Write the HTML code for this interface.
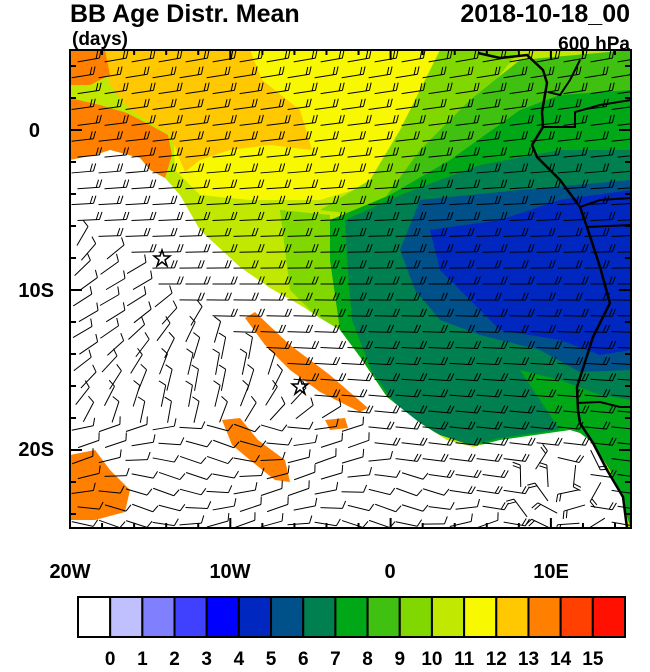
<!DOCTYPE html>
<html><head><meta charset="utf-8"><style>
body{margin:0;background:#fff;width:650px;height:667px;overflow:hidden;font-family:"Liberation Sans",sans-serif}
</style></head><body>
<svg id="s" width="650" height="667" xmlns="http://www.w3.org/2000/svg" font-family="Liberation Sans, sans-serif">
<defs><clipPath id="c"><rect x="70" y="50" width="561" height="478"/></clipPath></defs>
<g clip-path="url(#c)">
<rect x="70" y="50" width="561" height="478" fill="#c0e800"/>
<polygon fill="#f8f800" points="170,50,440,50,420,100,400,140,370,185,320,200,250,200,200,195,175,170"/>
<polygon fill="#ffc800" points="100,50,250,50,262,80,300,110,312,150,270,145,230,150,200,160,185,172,170,135,130,110,110,85"/>
<polygon fill="#ff8000" points="70,50,105,50,110,75,90,85,70,85"/>
<polygon fill="#ff8000" points="70,98,100,105,127,113,150,125,168,135,172,155,165,178,150,170,140,158,110,150,95,155,70,160"/>
<polygon fill="#80d800" points="440,50,520,50,480,100,430,150,400,190,360,215,320,210,370,180,400,130"/>
<polygon fill="#40c010" points="380,205,420,150,470,100,520,60,631,50,631,200,500,200"/>
<polygon fill="#00a818" points="330,220,390,195,450,160,520,110,560,95,631,90,631,440,560,440,470,445,400,420,360,357,340,330,320,260"/>
<polygon fill="#80d800" points="280,210,330,215,330,260,340,330,360,357,387,397,420,423,447,440,400,430,360,380,330,330,290,290"/>
<polygon fill="#008050" points="345,220,400,195,480,165,560,150,631,150,631,440,590,440,570,428,500,438,470,445,440,435,400,410,372,372,352,320,347,260"/>
<polygon fill="#00508a" points="420,200,520,190,631,180,631,370,580,372,540,350,480,335,440,320,415,290,400,250"/>
<polygon fill="#0028c0" points="430,230,500,220,560,200,631,190,631,350,600,355,560,340,500,330,470,300,440,270"/>
<polygon fill="#00a818" points="520,370,560,380,600,395,631,400,631,528,610,470,590,440,560,430,540,400"/>
<polygon fill="#fff" points="70,160,95,155,110,150,140,158,150,170,165,178,180,195,200,230,240,267,270,288,300,305,320,318,340,330,360,357,387,397,420,423,447,440,473,447,500,440,570,430,580,433,593,443,607,470,623,497,627,528,70,528"/>
<polygon fill="#ff8000" points="245,318,255,312,290,345,330,375,368,408,360,412,320,392,290,370,265,345"/>
<polygon fill="#ff8000" points="222,420,240,418,258,440,285,460,290,482,275,480,250,460,232,445"/>
<polygon fill="#ff8000" points="70,455,95,450,110,470,130,490,125,512,95,520,70,520"/>
<polygon fill="#ff8000" points="325,420,345,418,348,428,330,430"/>
<g fill="none" stroke="#000" stroke-width="2.5">
<polyline points="478,53,500,58,527,55,543,70,547,83,542,112,543,127,532,145,537,157,560,180,580,207,588,230,600,267,610,303,593,337,577,387,578,410,580,423,593,443,607,470,623,497,627,528"/>
<polyline points="543,127,575,127,575,112,600,105,631,100" stroke-width="2"/>
<polyline points="580,207,600,200,631,198" stroke-width="2"/>
<polyline points="587,227,631,225" stroke-width="2"/>
<polyline points="577,403,600,402,620,407,631,407" stroke-width="2"/>
<polyline points="548,92,560,95,570,80,575,70,580,60" stroke-width="2"/>
</g>
<g id="b" stroke="#000" stroke-width="1" fill="none"></g>
</g>
<rect x="70" y="50" width="561" height="478" fill="none" stroke="#000" stroke-width="2"/>
<g id="t" stroke="#000" stroke-width="2"></g>
<g font-size="20" font-weight="bold" fill="#000" text-anchor="end">
<text x="40" y="137">0</text><text x="54" y="297">10S</text><text x="54" y="456">20S</text>
</g>
<g font-size="20" font-weight="bold" fill="#000" text-anchor="middle">
<text x="70" y="578">20W</text><text x="230" y="578">10W</text><text x="390" y="578">0</text><text x="551" y="578">10E</text>
</g>
<text x="70" y="22" font-size="25" font-weight="bold">BB Age Distr. Mean</text>
<text x="72" y="45" font-size="19" font-weight="bold">(days)</text>
<text x="630" y="22" font-size="25" font-weight="bold" text-anchor="end">2018-10-18_00</text>
<text x="630" y="50" font-size="19" font-weight="bold" text-anchor="end">600 hPa</text>
<g fill="none" stroke="#000" stroke-width="1.5">
<polygon points="162,250 164,256 170,256 165,260 167,266 162,262 157,266 159,260 154,256 160,256"/>
<polygon points="300,378 302,384 308,384 303,388 305,394 300,390 295,394 297,388 292,384 298,384"/>
</g>
<g id="cb" stroke="#000" stroke-width="2"></g>
<g id="cl" font-size="19" font-weight="bold" text-anchor="middle"></g>
</svg>
<script>
var ns="http://www.w3.org/2000/svg";
function el(p,n,a,txt){var e=document.createElementNS(ns,n);for(var k in a)e.setAttribute(k,a[k]);if(txt!=null)e.textContent=txt;document.getElementById(p).appendChild(e);}
var cols=["#fff","#c0c0ff","#8080ff","#4040ff","#0000ff","#0028c0","#00508a","#008050","#00a818","#40c010","#80d800","#c0e800","#f8f800","#ffc800","#ff8000","#ff4000","#ff1000"];
var x0=78,w=(625-78)/17;
for(var i=0;i<17;i++){el("cb","rect",{x:x0+i*w,y:597,width:w,height:40,fill:cols[i]});}
for(var i=0;i<16;i++){el("cl","text",{x:x0+(i+1)*w,y:665},String(i));}
var px=16.03;
for(var lon=-20;lon<=15;lon+=2){var x=390.6+lon*px;var L=(lon%10==0)?10:5;el("t","line",{x1:x,y1:50,x2:x,y2:50+L});el("t","line",{x1:x,y1:528,x2:x,y2:528-L});}
for(var lat=4;lat>=-24;lat-=2){var y=130-lat*16;var L=(lat%10==0)?12:6;el("t","line",{x1:70,y1:y,x2:70+L,y2:y});el("t","line",{x1:631,y1:y,x2:631-L,y2:y});}
for(var y=60;y<528;y+=16){for(var x=78;x<631;x+=27){
 var ox=x+((y/16)%2)*6;
 var s=(y-50)/478;
 var white=(ox-70)*0.75+(130-y) < -80;
 var ang;
 if(!white){ang=(s-0.5)*20;}
 else if(y>420){ang=Math.sin(ox/40+y/30)*20;}
 else{ang=-55+Math.sin(ox/60+y/50)*25;}
 if(ox>520&&ox<600&&y>450){ang=Math.atan2(y-475,ox-565)*180/Math.PI+90;}
 var r=ang*Math.PI/180,L=22;
 var dx=Math.cos(r)*L,dy=Math.sin(r)*L;
 var x1=ox-dx/2,y1=y-dy/2,x2=ox+dx/2,y2=y+dy/2;
 el("b","line",{x1:x1,y1:y1,x2:x2,y2:y2});
 var tx=Math.cos(r-1.2)*8,ty=Math.sin(r-1.2)*8;
 el("b","line",{x1:x2,y1:y2,x2:x2+tx,y2:y2+ty});
 if(!white){el("b","line",{x1:x2-dx*0.15,y1:y2-dy*0.15,x2:x2-dx*0.15+tx,y2:y2-dy*0.15+ty});}
}}
</script>
</body></html>
